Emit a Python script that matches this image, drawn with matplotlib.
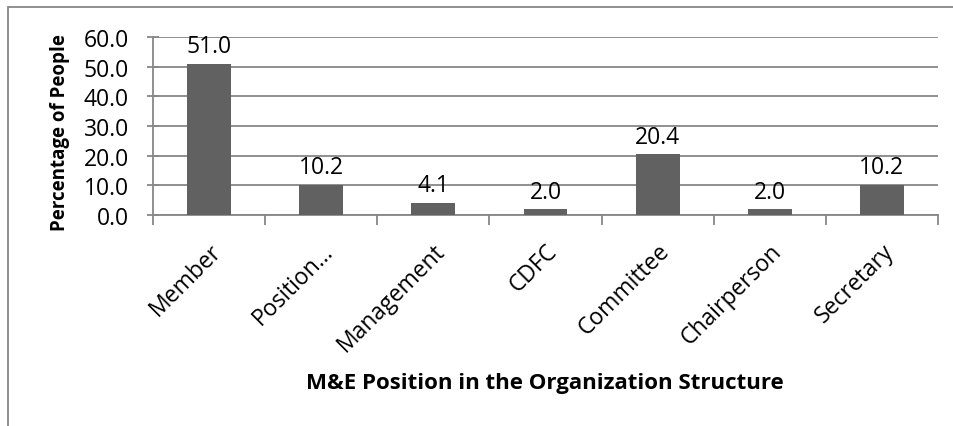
import matplotlib.pyplot as plt
from matplotlib.patches import Rectangle

categories = ["Member", "Position…", "Management", "CDFC", "Committee", "Chairperson", "Secretary"]
values = [51.0, 10.2, 4.1, 2.0, 20.4, 2.0, 10.2]

bar_color = "#616161"
grid_color = "#878787"

plt.rcParams["font.family"] = ["Open Sans", "DejaVu Sans"]

fig = plt.figure(figsize=(9.54, 4.27), dpi=100)
W, H = 954, 427
ax = fig.add_axes([153 / W, 1 - 216 / H, (938 - 153) / W, (216 - 38) / H])

x = range(len(categories))
ax.bar(x, values, width=0.39, color=bar_color, zorder=3)
for xi, v in zip(x, values):
    ax.annotate(f"{v:.1f}", (xi, v), xytext=(0, 4), textcoords="offset points",
                ha="center", va="bottom", fontsize=16.5, color="black")

ax.set_xlim(-0.5, len(categories) - 0.5)
ax.set_ylim(0, 60)
ax.set_yticks(range(0, 61, 10))
ax.set_yticklabels([f"{t:.1f}" for t in range(0, 61, 10)], fontsize=16.5)
ax.yaxis.grid(True, color=grid_color, linewidth=1.3, zorder=0)
ax.tick_params(axis="y", length=9, direction="inout", color=grid_color, width=1.3, pad=13)

# category ticks at the boundaries, labels at bar centres
ax.set_xticks([i - 0.5 for i in range(len(categories) + 1)])
ax.set_xticklabels([])
ax.tick_params(axis="x", which="major", length=7, color=grid_color, width=1.3)
ax.set_xticks(list(x), minor=True)
ax.set_xticklabels(categories, minor=True, rotation=45, ha="right",
                   rotation_mode="anchor", fontsize=16.5)
ax.tick_params(axis="x", which="minor", length=0, pad=17)

for s in ["top", "right"]:
    ax.spines[s].set_visible(False)
ax.spines["left"].set_color(grid_color)
ax.spines["bottom"].set_color(grid_color)
ax.spines["left"].set_linewidth(1.3)
ax.spines["bottom"].set_linewidth(1.3)

fig.text(60 / W, 1 - 133 / H, "Percentage of People", rotation=90,
         ha="center", va="center", fontsize=13.5, fontweight="bold")
fig.text(545 / W, 1 - 384 / H, "M&E Position in the Organization Structure",
         ha="center", va="center", fontsize=16, fontweight="bold")

# outer chart frame (only left and top edges visible)
frame = Rectangle((8 / W, -0.1), 1.2, 1 - 8 / H + 0.1, transform=fig.transFigure,
                  fill=False, edgecolor=grid_color, linewidth=1.3)
fig.patches.append(frame)

fig.savefig("out.png", dpi=100)
